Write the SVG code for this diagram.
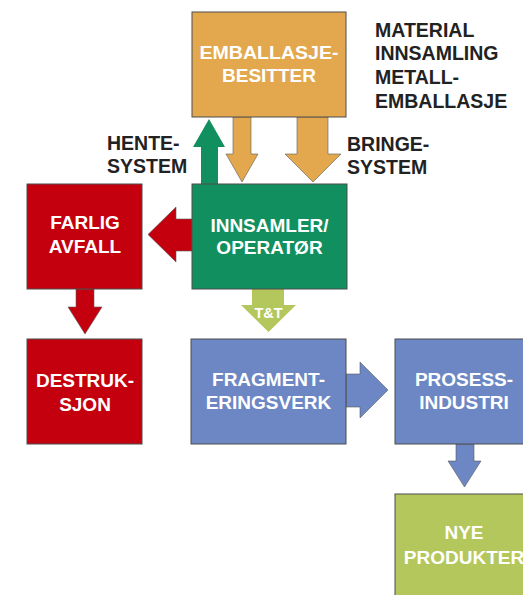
<svg xmlns="http://www.w3.org/2000/svg" width="523" height="595" viewBox="0 0 523 595">
<style>
.box{stroke:#4d4d4d;stroke-width:1}
.arr{stroke:#5a5a5a;stroke-width:0.6}
.bt{font-family:"Liberation Sans",Arial,sans-serif;font-weight:bold;font-size:19px;fill:#ffffff;text-anchor:middle}
.lt{font-family:"Liberation Sans",Arial,sans-serif;font-weight:bold;font-size:19.5px;fill:#222222}
.or{fill:#e3a84e}.gr{fill:#128f5e}.rd{fill:#c4000e}.bl{fill:#6c87c4}.lg{fill:#b4c75c}
</style>
<rect width="523" height="595" fill="#ffffff"/>
<g id="connectors">
<polygon class="gr" points="201,184 201,147 193,147 209,119 225,147 218,147 218,184"/>
<polygon class="or arr" points="233,117 251,117 251,154 258,154 242,182 226,154 233,154"/>
<polygon class="or arr" points="297,117 328,117 328,154 341,154 313,182 285,154 297,154"/>
<polygon class="rd arr" points="192,219 176,219 176,207 148,234.5 176,262 176,251 192,251"/>
<polygon class="rd arr" points="76,289 94,289 94,307 102,307 85,334 68,307 76,307"/>
<polygon class="lg" points="252,289 284,289 284,305 296,305 268.5,332 241,305 252,305"/>
<text x="268.5" y="318" style="font-family:'Liberation Sans',Arial,sans-serif;font-weight:bold;font-size:14.5px;fill:#ffffff;text-anchor:middle">T&amp;T</text>
<polygon class="bl arr" points="346,374 360,374 360,362 388,390 360,418 360,407 346,407"/>
<polygon class="bl arr" points="456,444 474,444 474,461 481,461 464.5,487 448,461 456,461"/>
</g>
<g id="emballasje">
<rect class="box or" x="192" y="12" width="154" height="105"/>
<text class="bt" x="269" y="59" textLength="139" lengthAdjust="spacingAndGlyphs">EMBALLASJE-</text>
<text class="bt" x="269" y="82">BESITTER</text>
</g>
<g id="title">
<text class="lt" x="375" y="37">MATERIAL</text>
<text class="lt" x="375" y="60">INNSAMLING</text>
<text class="lt" x="375" y="84">METALL-</text>
<text class="lt" x="375" y="108">EMBALLASJE</text>
</g>
<g id="hente">
<text class="lt" x="107" y="150">HENTE-</text>
<text class="lt" x="107" y="173">SYSTEM</text>
</g>
<g id="bringe">
<text class="lt" x="347" y="151">BRINGE-</text>
<text class="lt" x="347" y="174">SYSTEM</text>
</g>
<g id="innsamler">
<rect class="box gr" x="192" y="184" width="155" height="105"/>
<text class="bt" x="269.5" y="232">INNSAMLER/</text>
<text class="bt" x="269.5" y="254">OPERATØR</text>
</g>
<g id="farlig">
<rect class="box rd" x="27" y="184" width="115" height="105"/>
<text class="bt" x="85" y="229">FARLIG</text>
<text class="bt" x="85" y="253">AVFALL</text>
</g>
<g id="destruksjon">
<rect class="box rd" x="27" y="339" width="115" height="105"/>
<text class="bt" x="85" y="387">DESTRUK-</text>
<text class="bt" x="85" y="411">SJON</text>
</g>
<g id="fragmentering">
<rect class="box bl" x="191" y="339" width="155" height="105"/>
<text class="bt" x="268.5" y="386">FRAGMENT-</text>
<text class="bt" x="268.5" y="409">ERINGSVERK</text>
</g>
<g id="prosess">
<rect class="box bl" x="395" y="339" width="140" height="105"/>
<text class="bt" x="464" y="386">PROSESS-</text>
<text class="bt" x="464" y="409">INDUSTRI</text>
</g>
<g id="nye">
<rect class="box lg" x="395" y="494" width="140" height="110"/>
<text class="bt" x="464" y="539">NYE</text>
<text class="bt" x="464" y="564">PRODUKTER</text>
</g>
</svg>
